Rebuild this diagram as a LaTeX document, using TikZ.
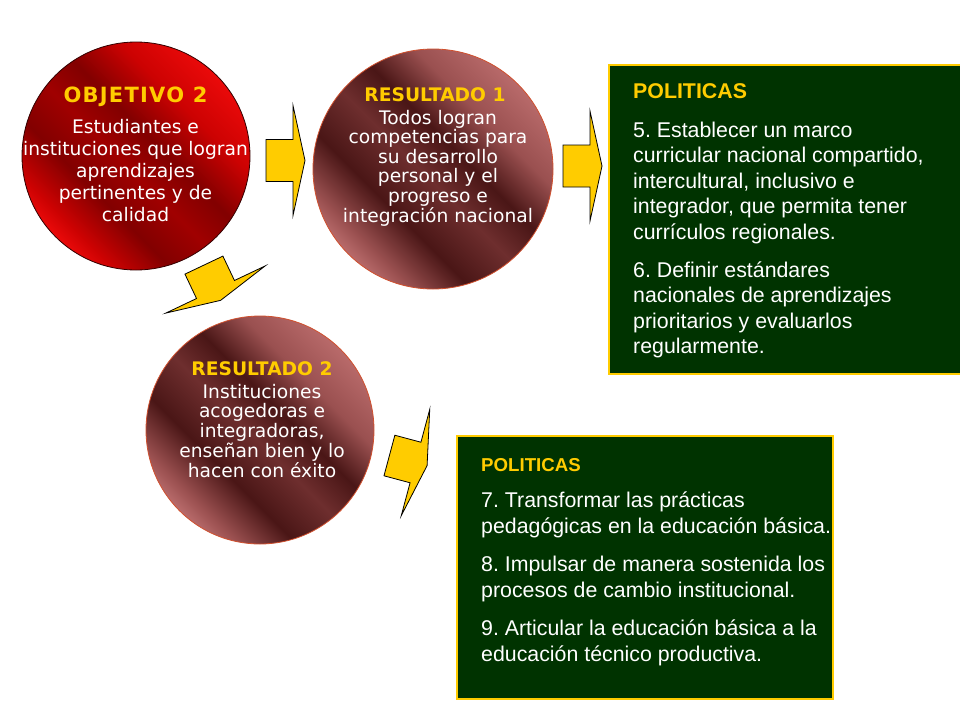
\documentclass[tikz,border=0pt]{standalone}
\usepackage{fontspec}
\newfontfamily\verd{DejaVu Sans}
\newfontfamily\arial{Liberation Sans}
\frenchspacing
\definecolor{oA}{HTML}{EA0A0A}
\definecolor{oA2}{HTML}{CC0202}
\definecolor{oM}{HTML}{A00000}
\definecolor{oD}{HTML}{820000}
\definecolor{rA}{HTML}{B86A6A}
\definecolor{rA2}{HTML}{9A5050}
\definecolor{rM}{HTML}{6E2E2E}
\definecolor{rD}{HTML}{4A1616}
\definecolor{gold}{HTML}{FFCC00}
\definecolor{boxgreen}{HTML}{003300}
\definecolor{resrim}{HTML}{D0502E}
\pgfdeclarehorizontalshading{objshade}{100bp}{color(0bp)=(oA); color(25bp)=(oA); color(35bp)=(oA2); color(45bp)=(oD); color(53bp)=(oM); color(62bp)=(oD); color(71bp)=(oA2); color(75bp)=(oA); color(100bp)=(oA)}
\pgfdeclarehorizontalshading{resshade}{100bp}{color(0bp)=(rA); color(25bp)=(rA); color(35bp)=(rA2); color(44bp)=(rD); color(52bp)=(rM); color(62bp)=(rD); color(71bp)=(rA2); color(75bp)=(rA); color(100bp)=(rA)}
\newcommand\cblock[2]{\vtop{\baselineskip=#1\relax\lineskiplimit=-100pt\lineskip=0pt\halign{\hfil##\hfil\cr#2\crcr}}}
\newcommand\lblock[2]{\vtop{\baselineskip=#1\relax\lineskiplimit=-100pt\lineskip=0pt\halign{##\hfil\cr#2\crcr}}}
\tikzset{
  objcircle/.style={circle, inner sep=0pt, minimum size=228pt, draw=black!80!red, line width=0.8pt, shade, shading=objshade, shading angle=225},
  rescircle/.style={circle, inner sep=0pt, draw=resrim, line width=0.8pt, shade, shading=resshade, shading angle=225},
  ctitle/.style={anchor=base, inner sep=0pt, text=gold, font=\verd\bfseries\fontsize{18.67}{22}\selectfont},
  cbody/.style={anchor=base, inner sep=0pt, text=white, font=\verd\fontsize{18.67}{22}\selectfont},
  polbox/.style={draw=gold, line width=2.2pt, fill=boxgreen},
  ptitle/.style={anchor=base west, inner sep=0pt, text=gold, font=\arial\bfseries\fontsize{21.33}{25}\selectfont},
  pbody/.style={anchor=base west, inner sep=0pt, text=white, font=\arial\fontsize{21.33}{25}\selectfont},
  arrowstyle/.style={fill=gold, draw=black, line width=0.8pt, line join=miter},
  blockarrow/.pic={\draw[arrowstyle] (-27,-21) -- (0,-21) -- (0,-55) -- (12,0) -- (0,55) -- (0,21) -- (-27,21) -- cycle;}
}
\begin{document}
\begin{tikzpicture}[x=1pt,y=-1pt]
\useasboundingbox (0,0) rectangle (960,720);
\clip (0,0) rectangle (960,720);
\fill[white] (0,0) rectangle (960,720);

% circles
\node[objcircle] (obj) at (136,156) {};
\node[rescircle, minimum size=240pt] (res1) at (433,169) {};
\node[rescircle, minimum size=228pt] (res2) at (260,430) {};

% circle texts
\node[ctitle, font=\verd\bfseries\fontsize{21}{25}\selectfont\addfontfeature{LetterSpace=6}] (objt) at (135.5,102) {OBJETIVO 2};
\node[cbody] (objb) at (135.5,133) {\cblock{22pt}{Estudiantes e\cr instituciones que logran\cr aprendizajes\cr pertinentes y de\cr calidad}};

\node[ctitle] (res1t) at (435,101) {RESULTADO 1};
\node[cbody] (res1b) at (438,124) {\cblock{19.6pt}{Todos logran\cr competencias para\cr su desarrollo\cr personal y el\cr progreso e\cr integración nacional}};

\node[ctitle] (res2t) at (262,375) {RESULTADO 2};
\node[cbody] (res2b) at (262,398) {\cblock{19.8pt}{Instituciones\cr acogedoras e\cr integradoras,\cr enseñan bien y lo\cr hacen con éxito}};

% policy boxes
\draw[polbox] (609,65) rectangle (963,374);
\node[ptitle] (p1t) at (633,98) {POLITICAS};
\node[pbody] (p1b) at (633,137) {\lblock{25.6pt}{5. Establecer un marco\cr curricular nacional compartido,\cr intercultural, inclusivo e\cr integrador, que permita tener\cr currículos regionales.\cr\noalign{\vskip12pt}6. Definir estándares\cr nacionales de aprendizajes\cr prioritarios y evaluarlos\cr regularmente.}};

\draw[polbox] (457,436) rectangle (833,699);
\node[ptitle, font=\arial\bfseries\fontsize{18.67}{22}\selectfont] (p2t) at (481,471) {POLITICAS};
\node[pbody] (p2b) at (481,507) {\lblock{26pt}{7. Transformar las prácticas\cr pedagógicas en la educación básica.\cr\noalign{\vskip12pt}8. Impulsar de manera sostenida los\cr procesos de cambio institucional.\cr\noalign{\vskip12pt}9. Articular la educación básica a la\cr educación técnico productiva.}};

% arrows
\pic (a1) at (293,160.5) {blockarrow};
\pic (a2) at (590,166) {blockarrow};
\pic[rotate=-64.6] (a3) at (215.5,289.5) {blockarrow};
\pic[rotate=-15] (a4) at (415.5,462.5) {blockarrow};
\end{tikzpicture}
\end{document}
